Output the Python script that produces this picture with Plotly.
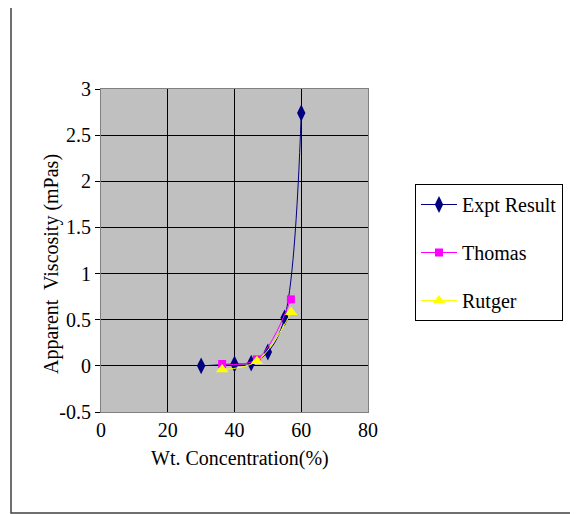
import plotly.graph_objects as go

# Data
expt_x = [30, 40, 45, 50, 55, 60]
expt_y = [0.0, 0.02, 0.03, 0.15, 0.52, 2.74]
thomas_x = [36.3, 46.7, 56.9]
thomas_y = [0.02, 0.07, 0.72]
rutger_x = [36.3, 46.7, 57.0]
rutger_y = [-0.04, 0.05, 0.58]

x_ticks = [0, 20, 40, 60, 80]
y_ticks = [-0.5, 0, 0.5, 1, 1.5, 2, 2.5, 3]
y_tick_text = ["-0.5", "0", "0.5", "1", "1.5", "2", "2.5", "3"]

FONT = "Times New Roman, Liberation Serif, serif"
FS = 20
OFF = 8  # page body margin
W, H = 578 - OFF, 514 - OFF
L, R, T, B = 101 - OFF, 368 - OFF, 89 - OFF, 412 - OFF


def px(xp):
    return (xp - OFF - L) / (R - L)


def py(yp):
    return (B - (yp - OFF)) / (B - T)


fig = go.Figure()
fig.add_trace(go.Scatter(
    x=expt_x, y=expt_y, name="Expt Result", mode="lines+markers",
    line=dict(color="#000080", width=1, shape="spline", smoothing=1.0),
    marker=dict(symbol="diamond-tall", size=12, color="#000080"),
    legendgroup="a"))
fig.add_trace(go.Scatter(
    x=thomas_x, y=thomas_y, name="Thomas", mode="lines+markers",
    line=dict(color="#FF00FF", width=1, shape="spline", smoothing=1.0),
    marker=dict(symbol="square", size=8, color="#FF00FF"),
    legendgroup="b"))
fig.add_trace(go.Scatter(
    x=rutger_x, y=rutger_y, name="Rutger", mode="lines+markers",
    line=dict(color="#FFFF00", width=1, shape="spline", smoothing=1.0),
    marker=dict(symbol="triangle-up", size=11, color="#FFFF00"),
    legendgroup="c"))

fig.update_layout(
    width=W, height=H, autosize=False,
    margin=dict(l=L, r=W - R, t=T, b=H - B, pad=0),
    paper_bgcolor="white", plot_bgcolor="#C0C0C0",
    font=dict(family=FONT, size=FS, color="black"),
    showlegend=True,
    legend=dict(x=px(415), y=py(184), xanchor="left", yanchor="top",
                bordercolor="black", borderwidth=1, bgcolor="white",
                tracegroupgap=19, font=dict(size=FS, family=FONT),
                itemwidth=36),
    xaxis=dict(range=[0, 80], tickvals=x_ticks, showgrid=True,
               gridcolor="black", gridwidth=1, zeroline=False,
               showline=True, linecolor="#808080", linewidth=1, mirror=True,
               ticks="", tickfont=dict(size=FS, family=FONT)),
    yaxis=dict(range=[-0.5, 3], tickvals=y_ticks, ticktext=y_tick_text,
               showgrid=True, gridcolor="black", gridwidth=1, zeroline=False,
               showline=True, linecolor="#808080", linewidth=1, mirror=True,
               ticks="outside", ticklen=5, tickcolor="black",
               tickfont=dict(size=FS, family=FONT)),
    annotations=[
        dict(text="Wt. Concentration(%)", x=px(240), y=py(458),
             xref="paper", yref="paper", showarrow=False,
             xanchor="center", yanchor="middle",
             font=dict(size=FS, family=FONT)),
        dict(text="Apparent  Viscosity (mPas)", x=px(51), y=py(264),
             xref="paper", yref="paper", showarrow=False, textangle=-90,
             xanchor="center", yanchor="middle",
             font=dict(size=FS, family=FONT)),
    ],
    shapes=[
        dict(type="rect", xref="paper", yref="paper",
             x0=px(11), x1=px(578), y0=py(513), y1=py(3),
             line=dict(color="#404040", width=1.5), layer="below"),
    ],
)

fig.write_html("out.html")
